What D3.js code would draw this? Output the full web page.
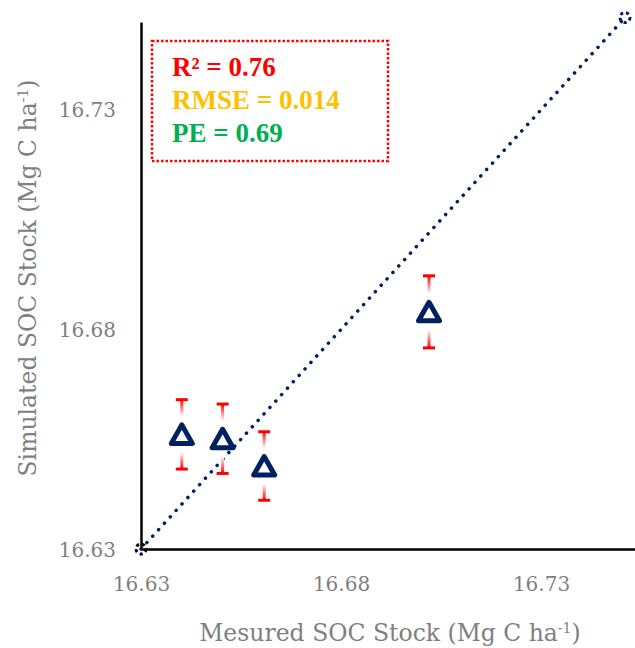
<!DOCTYPE html>
<html>
<head>
<meta charset="utf-8">
<script src="https://cdn.jsdelivr.net/npm/d3@7"></script>
<style>
  body { margin: 0; background: #fff; }
  svg { display: block; }
</style>
</head>
<body>
<div id="chart"></div>
<script>
// measured vs simulated SOC stock
var measured  = [16.6402, 16.6504, 16.6608, 16.7020];
var simulated = [16.6561, 16.6551, 16.6489, 16.6840];
var errors    = [0.0079, 0.0079, 0.0078, 0.0082];
var xTicks = [16.63, 16.68, 16.73];
var yTicks = [16.63, 16.68, 16.73];
var oneToOne = [16.63, 16.751];
var statLabels = ["R² = 0.76", "RMSE = 0.014", "PE = 0.69"];

var width = 635, height = 648;
var navy = "#002060", grey = "#7f7f7f";
var statColors = ["#ff0000", "#ffc000", "#00b050"];

var svg = d3.select("#chart").append("svg")
    .attr("width", width)
    .attr("height", height);

var x = d3.scaleLinear().domain([16.63, 16.7535]).range([141, 635]);
var y = d3.scaleLinear().domain([16.63, 16.75]).range([549, 22]);

var defs = svg.append("defs");
function fade(id, y1, y2) {
    var g = defs.append("linearGradient").attr("id", id)
        .attr("x1", 0).attr("x2", 0).attr("y1", y1).attr("y2", y2);
    g.append("stop").attr("offset", "0%").attr("stop-color", "#ff0000");
    g.append("stop").attr("offset", "75%").attr("stop-color", "#ffffff");
}
fade("fadeDown", 0, 1);
fade("fadeUp", 1, 0);

// axes
var fmt = d3.format(".2f");
var yAxis = svg.append("g")
    .attr("transform", "translate(" + x(16.63) + ",0)")
    .call(d3.axisLeft(y).tickValues(yTicks).tickSize(0).tickPadding(25).tickFormat(fmt));
var xAxis = svg.append("g")
    .attr("transform", "translate(0," + y(16.63) + ")")
    .call(d3.axisBottom(x).tickValues(xTicks).tickSize(0).tickPadding(28).tickFormat(fmt));

[xAxis, yAxis].forEach(function (a) {
    a.select(".domain").attr("stroke", "#000").attr("stroke-width", 2.5);
    a.selectAll("text")
        .attr("fill", grey)
        .style("font-family", "'DejaVu Serif', serif")
        .style("font-size", "20px");
});
yAxis.selectAll("text").attr("dy", "0.35em");

// 1:1 line
svg.append("line")
    .attr("x1", x(oneToOne[0])).attr("y1", y(oneToOne[0]))
    .attr("x2", x(oneToOne[1])).attr("y2", y(oneToOne[1]))
    .attr("stroke", navy)
    .attr("stroke-width", 3.5)
    .attr("stroke-linecap", "round")
    .attr("stroke-dasharray", "0.1 8.6");

svg.selectAll(".endmark")
    .data(oneToOne)
    .enter().append("circle")
    .attr("class", "endmark")
    .attr("cx", d => x(d))
    .attr("cy", d => y(d))
    .attr("r", 5)
    .attr("fill", "none")
    .attr("stroke", (d, i) => i === 0 ? "#000" : navy)
    .attr("stroke-width", 3)
    .attr("stroke-dasharray", "3 3");

// error bars
var data = measured.map((m, i) => ({m: m, s: simulated[i], e: errors[i]}));

var bars = svg.selectAll(".err")
    .data(data)
    .enter().append("g")
    .attr("class", "err");

bars.append("rect")
    .attr("x", d => x(d.m) - 1.5)
    .attr("width", 3)
    .attr("y", d => y(d.s + d.e))
    .attr("height", d => y(d.s) - 12 - y(d.s + d.e))
    .attr("fill", "url(#fadeDown)");

bars.append("rect")
    .attr("x", d => x(d.m) - 1.5)
    .attr("width", 3)
    .attr("y", d => y(d.s) + 12)
    .attr("height", d => y(d.s - d.e) - y(d.s) - 12)
    .attr("fill", "url(#fadeUp)");

[1, -1].forEach(function (sign) {
    bars.append("line")
        .attr("x1", d => x(d.m) - 6)
        .attr("x2", d => x(d.m) + 6)
        .attr("y1", d => y(d.s + sign * d.e))
        .attr("y2", d => y(d.s + sign * d.e))
        .attr("stroke", "#ff0000")
        .attr("stroke-width", 3);
});

// triangle markers
svg.selectAll(".pt")
    .data(data)
    .enter().append("path")
    .attr("class", "pt")
    .attr("transform", d => "translate(" + x(d.m) + "," + y(d.s) + ")")
    .attr("d", "M0,-9.5L10.5,9L-10.5,9Z")
    .attr("fill", "#fff")
    .attr("stroke", navy)
    .attr("stroke-width", 5)
    .attr("stroke-linejoin", "round");

// stats box
svg.append("rect")
    .attr("x", 152).attr("y", 41)
    .attr("width", 236).attr("height", 120)
    .attr("fill", "none")
    .attr("stroke", "#ff0000")
    .attr("stroke-width", 2.5)
    .attr("stroke-dasharray", "2.5 2");

svg.selectAll(".stat")
    .data(statLabels)
    .enter().append("text")
    .attr("class", "stat")
    .attr("x", 172)
    .attr("y", (d, i) => 76 + i * 33)
    .attr("fill", (d, i) => statColors[i])
    .style("font-family", "'Liberation Serif', serif")
    .style("font-weight", "bold")
    .style("font-size", "27px")
    .text(d => d);

// axis titles
function title(sel, label) {
    sel.attr("fill", grey)
        .style("font-family", "'DejaVu Serif', serif")
        .style("font-size", "23.5px")
        .attr("text-anchor", "middle");
    sel.append("tspan").text(label);
    sel.append("tspan").attr("baseline-shift", "super").style("font-size", "14px").text("-1");
    sel.append("tspan").text(")");
}

svg.append("text")
    .attr("x", 390).attr("y", 641)
    .call(title, "Mesured SOC Stock (Mg C ha");

svg.append("text")
    .attr("transform", "translate(36,278) rotate(-90)")
    .call(title, "Simulated SOC Stock (Mg C ha");
</script>
</body>
</html>
